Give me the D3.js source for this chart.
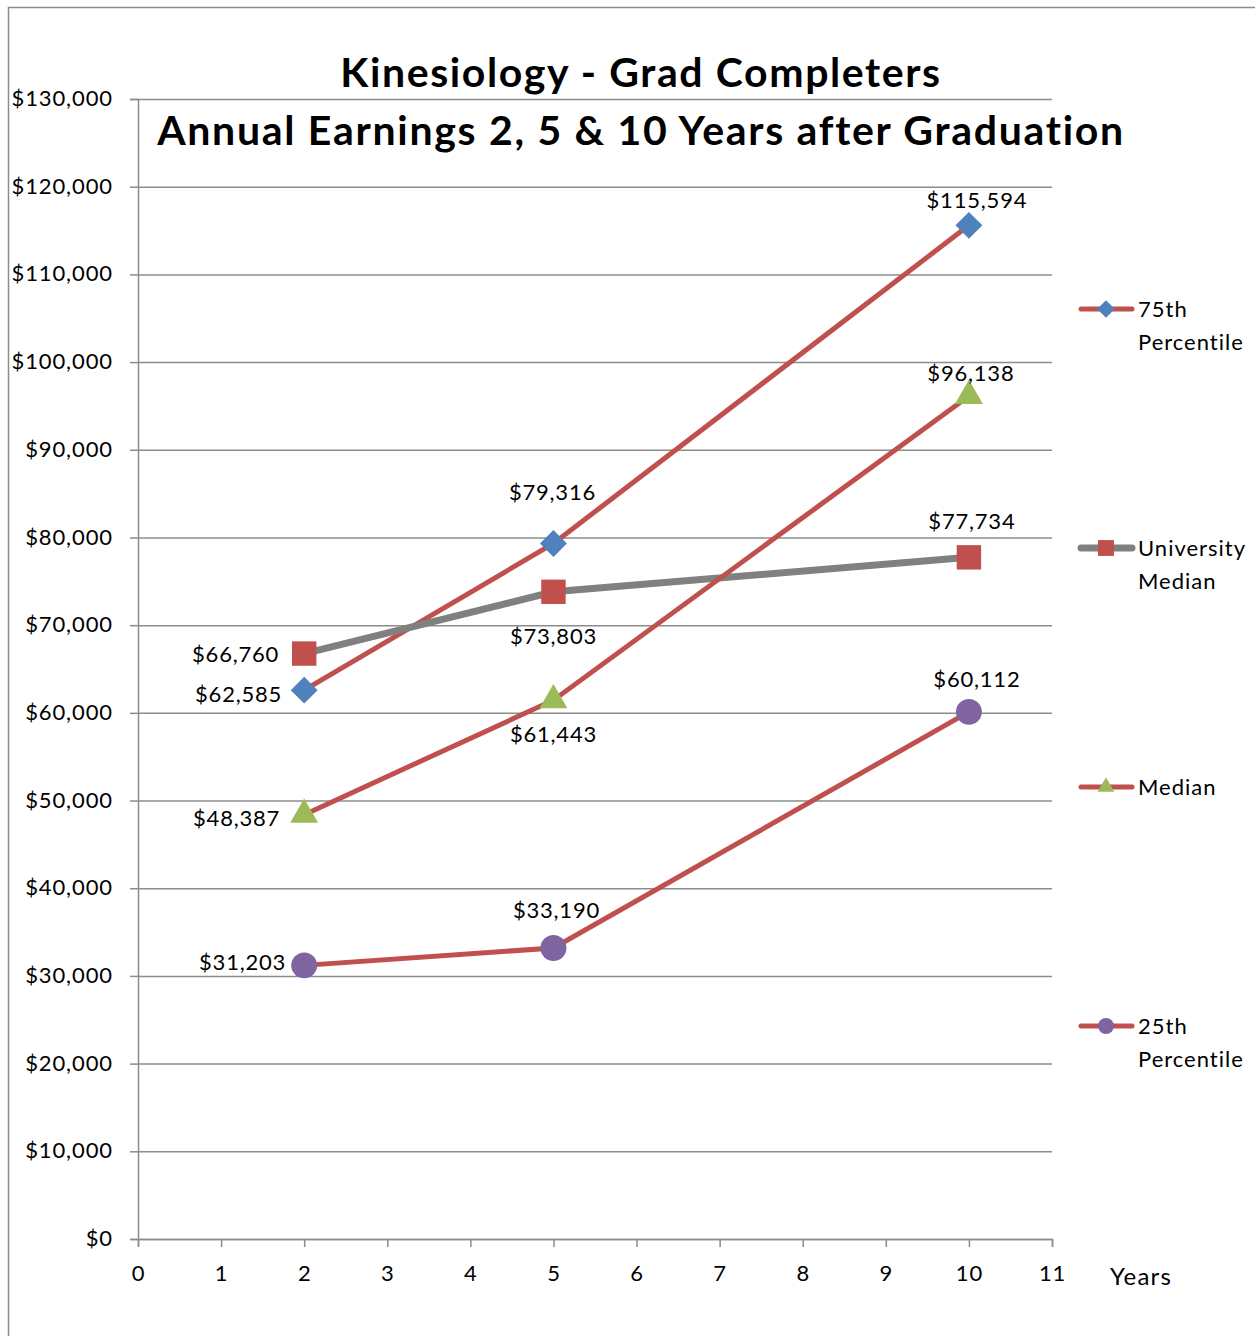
<!DOCTYPE html>
<html>
<head>
<meta charset="utf-8">
<script src="https://cdn.jsdelivr.net/npm/d3@7"></script>
<style>
  body { margin: 0; background: #fff; }
  svg text { font-family: Lato, "Open Sans", sans-serif; fill: #000; }
</style>
</head>
<body>
<div id="chart"></div>
<script>
// data
var years = [2, 5, 10];
var seriesNames = ["75th Percentile", "University Median", "Median", "25th Percentile"];
var p75 = [62585, 79316, 115594];
var uniMedian = [66760, 73803, 77734];
var median = [48387, 61443, 96138];
var p25 = [31203, 33190, 60112];
var yTicks = [0, 10000, 20000, 30000, 40000, 50000, 60000, 70000, 80000, 90000, 100000, 110000, 120000, 130000];
var xTicks = [0, 1, 2, 3, 4, 5, 6, 7, 8, 9, 10, 11];

var width = 1255, height = 1336;

var svg = d3.select("#chart").append("svg")
  .attr("width", width)
  .attr("height", height);

// outer frame
svg.append("path")
  .attr("d", "M8.5," + height + "V7.5H" + width)
  .attr("fill", "none")
  .attr("stroke", "#8c8c8c")
  .attr("stroke-width", 1.5);

var x = d3.scaleLinear().domain([0, 11]).range([138, 1052]);
var y = d3.scaleLinear().domain([0, 130000]).range([1239, 99]);

var fmt = function (v) { return "$" + d3.format(",")(v); };

// gridlines
svg.append("g")
  .selectAll("line")
  .data(yTicks)
  .enter().append("line")
  .attr("x1", x(0)).attr("x2", x(11))
  .attr("y1", function (d) { return y(d) + 0.5; })
  .attr("y2", function (d) { return y(d) + 0.5; })
  .attr("stroke", "#8c8c8c")
  .attr("stroke-width", 1.5);

// y axis
var yAxis = svg.append("g")
  .attr("transform", "translate(" + x(0) + ",0)")
  .call(d3.axisLeft(y).tickValues(yTicks).tickSize(8).tickPadding(17).tickFormat(fmt));
yAxis.selectAll("text").style("font-size", "22px").style("letter-spacing", "0.9px").attr("dy", "0.3em");

// x axis
var xAxis = svg.append("g")
  .attr("transform", "translate(0," + y(0) + ")")
  .call(d3.axisBottom(x).tickValues(xTicks).tickSize(8).tickPadding(18).tickFormat(d3.format("d")));
xAxis.selectAll("text").style("font-size", "22px").style("letter-spacing", "0.8px");

[yAxis, xAxis].forEach(function (a) {
  a.select(".domain").attr("stroke", "#8c8c8c").attr("stroke-width", 1.5);
  a.selectAll(".tick line").attr("stroke", "#8c8c8c").attr("stroke-width", 1.5);
});

svg.append("text")
  .attr("x", 1110).attr("y", 1285)
  .style("font-size", "24px").style("letter-spacing", "1.2px")
  .text("Years");

// title
svg.append("text")
  .attr("x", 641).attr("y", 87)
  .attr("text-anchor", "middle")
  .style("font-size", "41px").style("font-weight", "bold").style("letter-spacing", "1.6px")
  .text("Kinesiology - Grad Completers");
svg.append("text")
  .attr("x", 641).attr("y", 145)
  .attr("text-anchor", "middle")
  .style("font-size", "41px").style("font-weight", "bold").style("letter-spacing", "1.7px")
  .text("Annual Earnings 2, 5 & 10 Years after Graduation");

// series; lab = label offset [dx, dy] from the point, "end" anchored when dx < -10
var series = [
  { name: seriesNames[0], values: p75, line: "#C0504D", lw: 5, marker: d3.symbolDiamond2, msize: 460, color: "#4F81BD",
    lab: [[-22, 4], [-1, -51], [8, -25]] },
  { name: seriesNames[1], values: uniMedian, line: "#808080", lw: 7, marker: d3.symbolSquare2, msize: 760, color: "#C0504D",
    lab: [[-25, 1], [0, 44], [3, -36]] },
  { name: seriesNames[2], values: median, line: "#C0504D", lw: 5, marker: d3.symbolTriangle2, msize: 560, color: "#9BBB59",
    lab: [[-24, 4], [0, 34], [2, -23]] },
  { name: seriesNames[3], values: p25, line: "#C0504D", lw: 5, marker: d3.symbolCircle, msize: 530, color: "#8064A2",
    lab: [[-18, -3], [3, -38], [8, -33]] }
];

var line = d3.line()
  .x(function (d) { return x(d[0]); })
  .y(function (d) { return y(d[1]); });

series.forEach(function (s) {
  var pts = years.map(function (yr, i) { return [yr, s.values[i]]; });
  svg.append("path")
    .attr("d", line(pts))
    .attr("fill", "none")
    .attr("stroke", s.line)
    .attr("stroke-width", s.lw);
});

series.forEach(function (s) {
  var pts = years.map(function (yr, i) { return [yr, s.values[i]]; });
  svg.append("g").selectAll("path")
    .data(pts)
    .enter().append("path")
    .attr("transform", function (d) { return "translate(" + x(d[0]) + "," + y(d[1]) + ")"; })
    .attr("d", d3.symbol().type(s.marker).size(s.msize))
    .attr("fill", s.color);

  svg.append("g").selectAll("text")
    .data(pts)
    .enter().append("text")
    .attr("x", function (d, i) { return x(d[0]) + s.lab[i][0]; })
    .attr("y", function (d, i) { return y(d[1]) + s.lab[i][1]; })
    .attr("dy", "0.35em")
    .attr("text-anchor", function (d, i) { return s.lab[i][0] < -10 ? "end" : "middle"; })
    .style("font-size", "22px").style("letter-spacing", "0.8px")
    .text(function (d) { return fmt(d[1]); });
});

// legend
var legY = [309, 548, 787, 1026];
series.forEach(function (s, i) {
  var g = svg.append("g").attr("transform", "translate(0," + legY[i] + ")");
  g.append("line")
    .attr("x1", 1081).attr("x2", 1132)
    .attr("stroke", s.line).attr("stroke-width", s.lw)
    .attr("stroke-linecap", "round");
  g.append("path")
    .attr("transform", "translate(1106,0)")
    .attr("d", d3.symbol().type(s.marker).size(i === 1 ? 320 : 200))
    .attr("fill", s.color);
  var words = s.name.split(" ");
  g.append("text").attr("x", 1138).attr("y", 8).style("font-size", "22px").style("letter-spacing", "1px").text(words[0]);
  g.append("text").attr("x", 1138).attr("y", 41).style("font-size", "22px").style("letter-spacing", "1px").text(words.slice(1).join(" "));
});
</script>
</body>
</html>
